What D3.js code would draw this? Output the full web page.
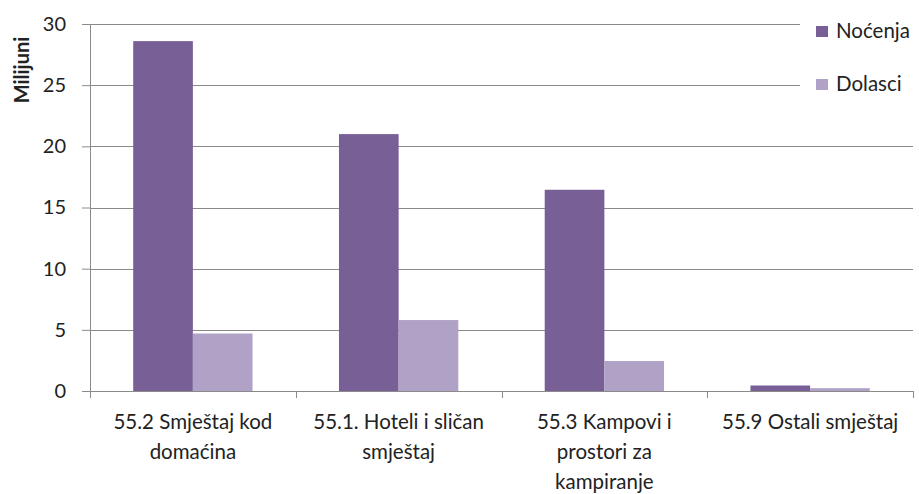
<!DOCTYPE html>
<html>
<head>
<meta charset="utf-8">
<script src="https://cdn.jsdelivr.net/npm/d3@7"></script>
<style>
  body { margin: 0; background: #fff; }
  text { font-family: Lato, "Open Sans", sans-serif; fill: #222; }
</style>
</head>
<body>
<div id="chart"></div>
<script>
// Data (millions)
const categories = ['55.2 Smještaj kod\ndomaćina', '55.1. Hoteli i sličan\nsmještaj', '55.3 Kampovi i\nprostori za\nkampiranje', '55.9 Ostali smještaj'];
const seriesNames = ['Noćenja', 'Dolasci'];
const nocenja = [28.6, 21.0, 16.45, 0.45];
const dolasci = [4.7, 5.8, 2.45, 0.23];
const yTicks = [0, 5, 10, 15, 20, 25, 30];
const colors = ['#785f96', '#b0a1c6'];

const width = 919;
const height = 494;
const margin = { top: 24, right: 6, bottom: 103, left: 90 };
const innerWidth = width - margin.left - margin.right;
const innerHeight = height - margin.top - margin.bottom;

const svg = d3.select('#chart')
    .append('svg')
    .attr('width', width)
    .attr('height', height);

const g = svg.append('g')
    .attr('transform', `translate(${margin.left}, ${margin.top})`);

// Scales
const xScale = d3.scaleBand()
    .domain(categories)
    .range([0, innerWidth])
    .paddingInner(0.42)
    .paddingOuter(0.21);

const xSub = d3.scaleBand()
    .domain(seriesNames)
    .range([0, xScale.bandwidth()]);

const yScale = d3.scaleLinear()
    .domain([0, 30])
    .range([innerHeight, 0]);

// Gridlines
g.append('g')
    .selectAll('line')
    .data(yTicks.filter(d => d > 0))
    .enter()
    .append('line')
    .attr('x1', 0)
    .attr('x2', innerWidth)
    .attr('y1', d => Math.round(yScale(d)) + 0.5)
    .attr('y2', d => Math.round(yScale(d)) + 0.5)
    .attr('stroke', '#8a8a8a')
    .attr('stroke-width', 1);

// Bars
const rows = categories.map((c, i) => ({ cat: c, values: [nocenja[i], dolasci[i]] }));
const groups = g.selectAll('.grp')
    .data(rows)
    .enter()
    .append('g')
    .attr('transform', d => `translate(${xScale(d.cat)}, 0)`);

groups.selectAll('rect')
    .data(d => d.values.map((v, j) => ({ key: seriesNames[j], value: v, j: j })))
    .enter()
    .append('rect')
    .attr('x', d => xSub(d.key))
    .attr('width', xSub.bandwidth())
    .attr('y', d => yScale(d.value))
    .attr('height', d => innerHeight - yScale(d.value))
    .attr('fill', d => colors[d.j]);

// Y axis
const yAxis = d3.axisLeft(yScale)
    .tickValues(yTicks)
    .tickSize(8)
    .tickPadding(16);
const yG = g.append('g').call(yAxis);
yG.select('.domain').attr('stroke', '#8a8a8a');
yG.selectAll('.tick line').attr('stroke', '#8a8a8a');
yG.selectAll('.tick text')
    .style('font-family', 'Lato, sans-serif')
    .style('font-size', '20px')
    .attr('fill', '#222');

// X axis (category boundaries ticks)
const xG = g.append('g')
    .attr('transform', `translate(0, ${innerHeight})`);
xG.append('line')
    .attr('x1', 0)
    .attr('x2', innerWidth)
    .attr('y1', 0.5)
    .attr('y2', 0.5)
    .attr('stroke', '#8a8a8a');
const step = xScale.step();
xG.selectAll('.bound')
    .data(d3.range(categories.length + 1))
    .enter()
    .append('line')
    .attr('x1', i => Math.round(i * step) + 0.5)
    .attr('x2', i => Math.round(i * step) + 0.5)
    .attr('y1', 0)
    .attr('y2', 7)
    .attr('stroke', '#8a8a8a');

// Category labels
const labels = xG.selectAll('.lbl')
    .data(categories)
    .enter()
    .append('text')
    .attr('x', d => xScale(d) + xScale.bandwidth() / 2)
    .attr('y', 38)
    .style('text-anchor', 'middle')
    .style('font-size', '20.5px');
labels.each(function (d) {
    const t = d3.select(this);
    d.split('\n').forEach((line, i) => {
        t.append('tspan')
            .attr('x', xScale(d) + xScale.bandwidth() / 2)
            .attr('dy', i === 0 ? 0 : 30)
            .text(line);
    });
});

// Y axis title
svg.append('text')
    .attr('transform', 'rotate(-90)')
    .attr('x', -70)
    .attr('y', 29)
    .style('text-anchor', 'middle')
    .style('font-size', '20px')
    .style('font-weight', 'bold')
    .attr('fill', '#000')
    .text('Milijuni');

// Legend with white background
const legend = svg.append('g')
    .attr('transform', 'translate(800, 0)');
legend.append('rect')
    .attr('width', 119)
    .attr('height', 100)
    .attr('fill', '#fff');
seriesNames.forEach((name, i) => {
    const item = legend.append('g')
        .attr('transform', `translate(16, ${26 + i * 53})`);
    item.append('rect')
        .attr('width', 12)
        .attr('height', 11)
        .attr('fill', colors[i]);
    item.append('text')
        .attr('x', 20)
        .attr('y', 12)
        .style('font-size', '20.5px')
        .text(name);
});
</script>
</body>
</html>
